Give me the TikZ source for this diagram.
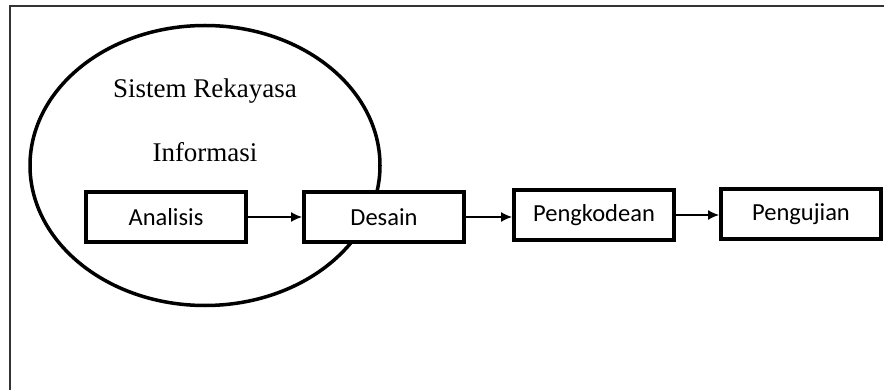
\documentclass[tikz,border=0pt]{standalone}
\usepackage{fontspec}
\setmainfont{Liberation Serif}
\newfontfamily\boxfont{Carlito}
\usetikzlibrary{arrows.meta}
\begin{document}
\begin{tikzpicture}[x=1pt,y=-1pt,
		stage/.style={draw=black, line width=4pt, fill=white, minimum width=160pt, minimum height=50pt, inner sep=0pt, font=\boxfont\fontsize{24.5}{28}\selectfont},
		flow/.style={-{Latex[length=11pt,width=10pt]}, line width=1.3pt}]
			\useasboundingbox (0,0) rectangle (884,390);
			\clip (0,0) rectangle (884,390);
			%coordinates
			\coordinate (frame) at (10,6);
			\coordinate (sys) at (205,165.5);
			%Frame
			\draw[black!80, line width=1.5pt] (frame) rectangle (1000,500);
			%System
			\draw[line width=3.5pt] (sys) ellipse (175 and 140);
			\node[font=\fontsize{27}{30}\selectfont] (title1) at (205,91) {Sistem Rekayasa};
			\node[font=\fontsize{27}{30}\selectfont] (title2) at (205,152) {Informasi};
			%Stages
			\node[stage] (analisis) at (166,217) {Analisis};
			\node[stage] (desain) at (384,217) {Desain};
			\node[stage] (kode) at (594,215) {Pengkodean};
			\node[stage] (uji) at (801,214) {Pengujian};
			%Arrows
			\draw[flow] (analisis) -- (desain);
			\draw[flow] (desain.east) -- (desain.east -| kode.west);
			\draw[flow] (kode.east) -- (kode.east -| uji.west);
		\end{tikzpicture}
\end{document}
